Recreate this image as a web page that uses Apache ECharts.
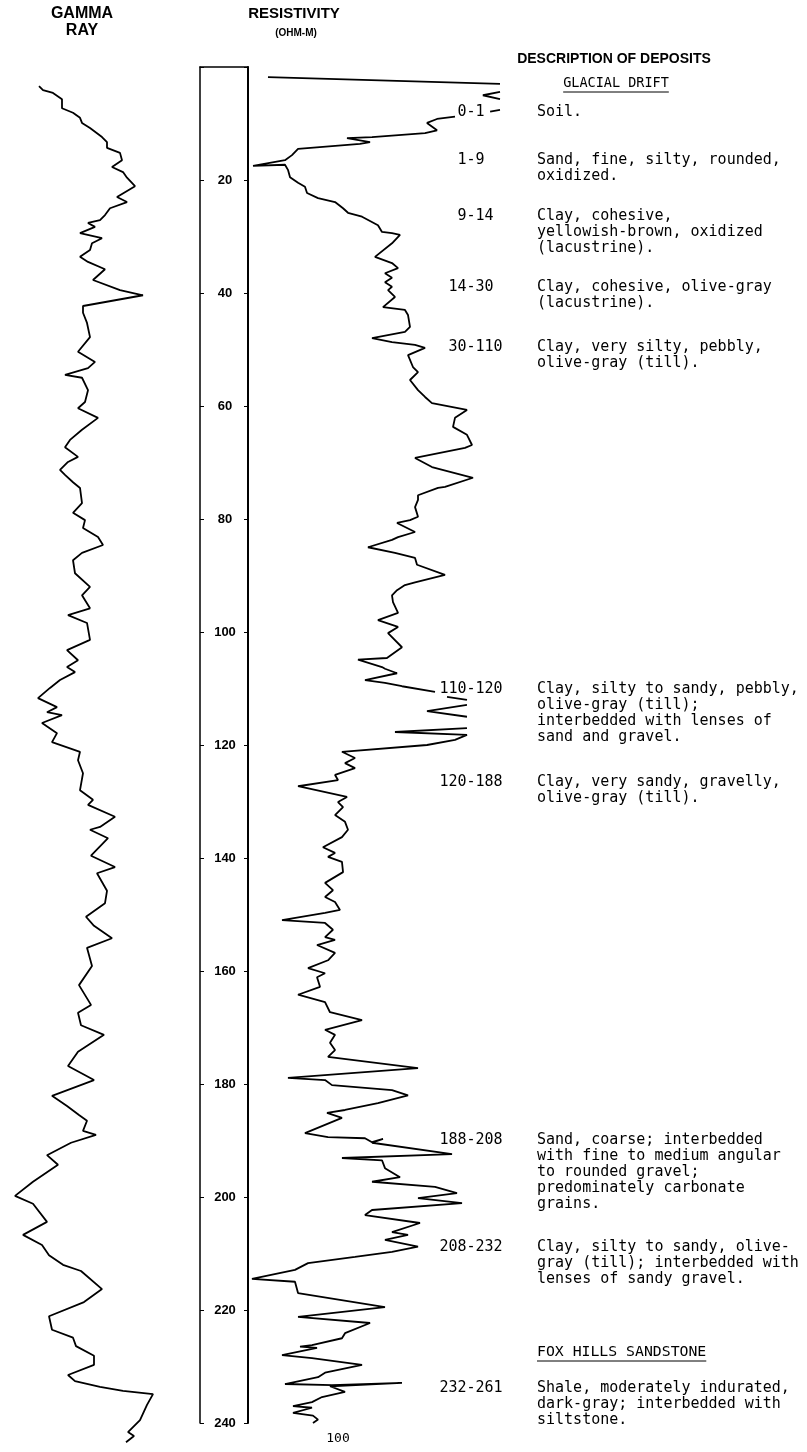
<!DOCTYPE html>
<html>
<head>
<meta charset="utf-8">
<title>Gamma ray and resistivity log</title>
<script src="https://cdn.jsdelivr.net/npm/echarts@6/dist/echarts.min.js"></script>
<style>
  html, body { margin: 0; padding: 0; background: #fff; }
  #log { width: 807px; height: 1452px; }
</style>
</head>
<body>
<div id="log"></div>
<script>
// depth scale of the middle column, feet
var depthTicks = [20, 40, 60, 80, 100, 120, 140, 160, 180, 200, 220, 240];

// gamma ray trace (relative counts)
var gammaDepth = [3.4, 4.1, 4.6, 5.7, 7.3, 8.1, 9.0, 9.9, 10.8, 12.4,
  13.3, 14.3, 15.2, 16.5, 17.7, 18.6, 19.6, 21.1, 23.0, 23.9,
  25.0, 26.2, 27.1, 27.6, 28.3, 29.4, 30.3, 31.2, 32.4, 33.6,
  34.5, 35.8, 37.7, 39.5, 40.4, 42.3, 43.5, 45.3, 47.8, 50.4,
  52.2, 53.3, 54.5, 55.0, 57.2, 59.3, 60.4, 62.1, 64.2, 66.0,
  67.3, 69.0, 69.9, 71.3, 72.2, 73.5, 74.5, 77.2, 78.9, 80.2,
  81.6, 83.2, 84.6, 86.0, 87.3, 89.6, 92.0, 93.5, 95.8, 97.0,
  98.4, 101.4, 103.2, 105.0, 106.2, 107.1, 108.5, 109.9, 111.7, 113.3,
  114.2, 114.7, 116.1, 117.9, 119.5, 121.2, 122.7, 125.0, 128.0, 129.7,
  130.6, 132.7, 134.5, 135.0, 136.5, 139.6, 141.6, 142.7, 145.8, 148.0,
  150.4, 152.0, 154.2, 155.9, 159.1, 162.5, 166.0, 167.4, 169.6, 171.3,
  174.3, 176.8, 179.3, 182.1, 183.9, 185.5, 186.5, 188.3, 189.0, 190.4,
  192.6, 194.3, 197.3, 199.8, 201.2, 204.4, 206.7, 208.5, 210.3, 212.0,
  213.1, 216.3, 218.6, 221.1, 223.5, 224.9, 226.4, 228.1, 229.7, 231.5,
  232.6, 233.6, 234.3, 234.9, 236.8, 239.5, 241.6, 242.3, 243.4];
var gammaCount = [39, 43, 53, 62, 62, 73, 80, 82, 90, 102,
  107, 107, 120, 122, 112, 123, 127, 135, 117, 127,
  110, 105, 100, 88, 95, 80, 102, 92, 90, 80,
  88, 105, 93, 120, 143, 83, 83, 87, 90, 78,
  95, 88, 65, 82, 88, 85, 78, 98, 82, 70,
  65, 78, 68, 60, 65, 73, 80, 82, 73, 85,
  83, 98, 103, 82, 73, 75, 90, 82, 90, 68,
  87, 90, 67, 78, 67, 75, 60, 50, 38, 57,
  47, 62, 42, 57, 52, 80, 78, 83, 80, 93,
  88, 115, 100, 90, 108, 91, 115, 97, 107, 105,
  86, 94, 112, 87, 92, 79, 91, 78, 81, 104,
  78, 68, 94, 52, 67, 79, 87, 83, 96, 71,
  47, 58, 33, 15, 33, 47, 23, 42, 49, 63,
  81, 102, 84, 49, 52, 73, 76, 94, 94, 68,
  75, 100, 123, 153, 147, 140, 128, 134, 126];

// resistivity trace, ohm-m; null = pen lifted
var resDepth = [1.8, 3.0, null,
  4.4, 5.0, 5.7, null,
  7.6, 7.9, null,
  8.8, 9.2, 9.9, 11.2, 11.7, 12.4, 12.6, 13.3, 13.6, 14.5,
  15.6, 16.5, 17.5, 17.3, 18.2, 19.5, 20.5, 21.2, 22.3, 23.2,
  23.9, 25.0, 25.8, 26.5, 28.0, 29.2, 29.4, 29.7, 31.2, 33.6,
  34.7, 35.6, 36.5, 37.3, 38.1, 38.9, 39.5, 40.7, 42.5, 43.0,
  43.9, 46.0, 46.9, 48.0, 48.7, 49.2, 49.7, 51.0, 53.1, 54.0,
  55.4, 57.2, 58.4, 59.5, 60.7, 62.1, 63.7, 65.1, 66.9, 67.4,
  69.2, 70.8, 72.7, 74.3, 74.5, 75.8, 76.6, 77.9, 79.6, 80.2,
  80.7, 82.3, 83.2, 83.7, 85.0, 86.0, 86.9, 88.1, 89.9, 91.2,
  91.7, 92.6, 93.5, 94.7, 96.6, 97.9, 99.1, 100.2, 102.7, 104.6,
  104.9, 106.2, 106.5, 107.3, 108.5, 109.0, 109.6, 110.6, null,
  111.5, 112.0, null,
  112.9, 114.0, 115.0, null,
  117.0, 117.7, 118.2, 119.1, 120.0, 121.2, 122.3, 123.2, 124.1, 125.3,
  126.2, 127.3, 129.2, 130.1, 131.0, 132.4, 133.6, 135.0, 136.3, 138.1,
  139.1, 139.8, 140.7, 142.5, 144.4, 145.7, 146.9, 147.8, 149.2, 149.7,
  151.0, 151.5, 152.7, 154.0, 154.5, 155.4, 156.8, 158.1, 159.5, 160.4,
  161.1, 162.8, 164.2, 165.5, 167.3, 168.7, 170.4, 171.3, 172.7, 174.0,
  175.2, 177.2, 178.9, 179.3, 180.2, 181.1, 182.0, 183.4, 184.6, 185.1,
  186.0, 188.7, 189.4, 189.6, 190.3, 189.7, 190.4, 192.4, 193.1, 193.5,
  194.9, 196.5, 197.3, 198.2, 199.3, 200.2, 201.1, 202.3, 203.2, 204.6,
  206.2, 206.7, 207.6, 208.8, 209.7, 210.6, 211.7, 212.9, 214.5, 215.0,
  217.0, 219.5, 221.2, 222.3, 224.1, 225.0, 226.2, 226.5, 226.7, 228.0,
  228.5, 229.7, 231.1, 231.9, 233.1, 233.3, 232.9, 233.5, 234.5, 235.4,
  236.3, 237.0, 237.3, 238.2, 238.7, 239.4, 240.0];
var resOhm = [22.2, 280, null,
  280, 261, 280, null,
  280, 269, null,
  230.0, 210.0, 198.9, 210.0, 196.7, 137.8, 110.0, 135.6, 124.4, 55.6,
  48.9, 41.1, 5.6, 41.1, 44.4, 46.7, 55.6, 63.3, 65.6, 77.8,
  96.7, 105.6, 111.1, 126.7, 144.4, 148.9, 160.0, 168.9, 160.0, 141.1,
  160.0, 166.7, 152.2, 160.0, 152.2, 160.0, 155.6, 163.3, 150.0, 174.4,
  177.8, 180.0, 174.4, 137.8, 160.0, 185.6, 196.7, 177.8, 183.3, 188.9,
  180.0, 188.9, 196.7, 204.4, 243.3, 230.0, 227.8, 243.3, 248.9, 241.1,
  185.6, 204.4, 250.0, 218.9, 211.1, 188.9, 188.9, 185.6, 188.9, 180.0,
  165.6, 185.6, 166.7, 160.0, 133.3, 163.3, 185.6, 187.8, 218.9, 185.6,
  174.4, 165.6, 160.0, 161.1, 166.7, 144.4, 166.7, 155.6, 171.1, 154.4,
  122.2, 148.9, 152.2, 165.6, 130.0, 152.2, 171.1, 207.8, null,
  221.1, 243.3, null,
  243.3, 198.9, 243.3, null,
  243.3, 163.3, 243.3, 230.0, 198.9, 104.4, 118.9, 107.8, 118.9, 96.7,
  100.0, 55.6, 110.0, 100.0, 105.6, 96.7, 107.8, 111.1, 104.4, 83.3,
  96.7, 88.9, 104.4, 105.6, 85.6, 94.4, 85.6, 96.7, 102.2, 85.6,
  37.8, 85.6, 94.4, 85.6, 96.7, 76.7, 96.7, 88.9, 66.7, 85.6,
  76.7, 80.0, 55.6, 85.6, 91.1, 126.7, 85.6, 96.7, 91.1, 96.7,
  88.9, 188.9, 44.4, 85.6, 93.3, 160.0, 177.8, 144.4, 107.8, 87.8,
  104.4, 63.3, 88.9, 130.0, 137.8, 150.0, 137.8, 226.7, 104.4, 148.9,
  152.2, 168.9, 137.8, 207.8, 232.2, 188.9, 237.8, 137.8, 130.0, 191.1,
  160.0, 177.8, 152.2, 188.9, 160.0, 118.9, 66.7, 52.2, 4.4, 52.2,
  55.6, 152.2, 55.6, 135.6, 107.8, 104.4, 71.1, 57.8, 76.7, 37.8,
  71.1, 126.7, 85.6, 77.8, 41.1, 93.3, 171.1, 91.1, 107.8, 82.2,
  71.1, 50.0, 71.1, 50.0, 72.2, 77.8, 72.2];

var intervals = ['0-1', '1-9', '9-14', '14-30', '30-110', '110-120',
  '120-188', '188-208', '208-232', '232-261'];
var descriptions = [
  ['Soil.'],
  ['Sand, fine, silty, rounded,', 'oxidized.'],
  ['Clay, cohesive,', 'yellowish-brown, oxidized', '(lacustrine).'],
  ['Clay, cohesive, olive-gray', '(lacustrine).'],
  ['Clay, very silty, pebbly,', 'olive-gray (till).'],
  ['Clay, silty to sandy, pebbly,', 'olive-gray (till);', 'interbedded with lenses of', 'sand and gravel.'],
  ['Clay, very sandy, gravelly,', 'olive-gray (till).'],
  ['Sand, coarse; interbedded', 'with fine to medium angular', 'to rounded gravel;', 'predominately carbonate', 'grains.'],
  ['Clay, silty to sandy, olive-', 'gray (till); interbedded with', 'lenses of sandy gravel.'],
  ['Shale, moderately indurated,', 'dark-gray; interbedded with', 'siltstone.']
];
var formations = ['GLACIAL DRIFT', 'FOX HILLS SANDSTONE'];

// ---- layout ----
var TOP = 67, PXFT = 5.65;
var MONO = '"DejaVu Sans Mono", monospace';
var CW = 9.03;                 // advance of 15px DejaVu Sans Mono
var textY = [112, 160, 216, 287, 347, 689, 782, 1140, 1247, 1388];
var formY = [83, 1352];
var dashX = 471, descX = 537, lineGap = 16;

function pairs(xs, ys) {
  var segs = [], cur = [];
  for (var i = 0; i < xs.length; i++) {
    if (xs[i] === null || ys[i] === null) { if (cur.length) segs.push(cur); cur = []; }
    else cur.push([xs[i], ys[i]]);
  }
  if (cur.length) segs.push(cur);
  return segs;
}

var pen = { color: '#000', width: 1.8 };
var series = [{
  type: 'line', xAxisIndex: 0, yAxisIndex: 0, showSymbol: false, silent: true,
  lineStyle: pen, data: pairs(gammaCount, gammaDepth)[0]
}];
pairs(resOhm, resDepth).forEach(function (seg) {
  series.push({ type: 'line', xAxisIndex: 2, yAxisIndex: 3, showSymbol: false, silent: true,
    lineStyle: pen, data: seg });
});

var graphic = [];
function txt(x, y, s, font, align) {
  graphic.push({ type: 'text', x: x, y: y, silent: true,
    style: { text: s, font: font, fill: '#000', textAlign: align || 'left', textVerticalAlign: 'middle' } });
}
function rule(x1, x2, y) {
  graphic.push({ type: 'line', silent: true, shape: { x1: x1, y1: y, x2: x2, y2: y },
    style: { stroke: '#000', lineWidth: 1 } });
}

var SANS = '"Liberation Sans", Arial, sans-serif';
txt(82, 14, 'GAMMA', 'bold 16px ' + SANS, 'center');
txt(82, 31, 'RAY', 'bold 16px ' + SANS, 'center');
txt(294, 14, 'RESISTIVITY', 'bold 15px ' + SANS, 'center');
txt(296, 33, '(OHM-M)', 'bold 10px ' + SANS, 'center');
txt(614, 59, 'DESCRIPTION OF DEPOSITS', 'bold 14px ' + SANS, 'center');

// formation headings, underlined
var formSize = [13.5, 14.8];
formations.forEach(function (f, i) {
  var w = f.length * formSize[i] * 0.602;
  var x0 = i === 0 ? 616 - w / 2 : descX;
  txt(x0, formY[i], f, formSize[i] + 'px ' + MONO);
  rule(x0, x0 + w, formY[i] + 9);
});

intervals.forEach(function (lab, i) {
  var left = dashX - CW * (lab.indexOf('-') + 0.5);
  txt(left, textY[i], lab, '15px ' + MONO);
  descriptions[i].forEach(function (line, k) {
    txt(descX, textY[i] + k * lineGap, line, '15px ' + MONO);
  });
});

var chart = echarts.init(document.getElementById('log'));
chart.setOption({
  animation: false,
  backgroundColor: '#fff',
  grid: [
    { left: 0, top: TOP, width: 170, height: 245 * PXFT },
    { left: 200, top: TOP, width: 48, height: 240 * PXFT },
    { left: 248, top: TOP, width: 252, height: 240 * PXFT }
  ],
  xAxis: [
    { gridIndex: 0, type: 'value', min: 0, max: 170, show: false },
    { gridIndex: 1, type: 'value', min: 0, max: 1, position: 'top',
      axisLine: { show: true, lineStyle: { color: '#000', width: 1.5 } },
      axisTick: { show: false }, axisLabel: { show: false }, splitLine: { show: false } },
    { gridIndex: 2, type: 'value', min: 0, max: 280, interval: 100, position: 'bottom',
      axisLine: { show: false }, axisTick: { show: false }, splitLine: { show: false },
      axisLabel: { margin: 9, color: '#000', fontFamily: 'DejaVu Sans Mono', fontSize: 13,
        formatter: function (v) { return v === 100 ? '100' : ''; } } }
  ],
  yAxis: [
    { gridIndex: 0, type: 'value', inverse: true, min: 0, max: 245, show: false },
    { gridIndex: 1, type: 'value', inverse: true, min: 0, max: 240, interval: 20, position: 'left',
      axisLine: { show: true, lineStyle: { color: '#000', width: 1.5 } },
      axisTick: { show: true, inside: true, length: 4, lineStyle: { color: '#000', width: 1 } },
      splitLine: { show: false },
      axisLabel: { inside: true, margin: 25, align: 'center', color: '#000',
        fontFamily: SANS, fontWeight: 'bold', fontSize: 13,
        formatter: function (v) { return depthTicks.indexOf(v) >= 0 ? String(v) : ''; } } },
    { gridIndex: 1, type: 'value', inverse: true, min: 0, max: 240, interval: 20, position: 'right',
      axisLine: { show: true, lineStyle: { color: '#000', width: 2 } },
      axisTick: { show: true, inside: true, length: 4, lineStyle: { color: '#000', width: 1 } },
      splitLine: { show: false }, axisLabel: { show: false } },
    { gridIndex: 2, type: 'value', inverse: true, min: 0, max: 240, show: false }
  ],
  series: series,
  graphic: graphic
});
</script>
</body>
</html>
